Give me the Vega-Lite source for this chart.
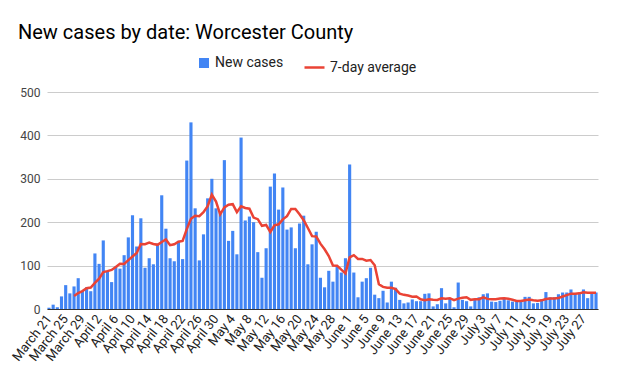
{
"$schema": "https://vega.github.io/schema/vega-lite/v6.json",
"width": 551, "height": 217,
"autosize": "none",
"padding": {"left": 47, "top": 92, "right": 20, "bottom": 73},
"background": "white",
"title": {"text": "New cases by date: Worcester County", "anchor": "start", "frame": "group", "font": "Roboto", "fontSize": 20, "fontWeight": "normal", "color": "#000000", "dx": -29, "offset": 13},
"config": {"view": {"stroke": null}, "font": "Roboto"},
"data": {"values": [
{"d":"March 21","n":3,"a":null},{"d":"March 22","n":10,"a":null},{"d":"March 23","n":4,"a":null},{"d":"March 24","n":29,"a":null},{"d":"March 25","n":55,"a":null},{"d":"March 26","n":36,"a":null},{"d":"March 27","n":52,"a":30},{"d":"March 28","n":71,"a":36.7},{"d":"March 29","n":42,"a":41.3},{"d":"March 30","n":50,"a":47.9},{"d":"March 31","n":41,"a":49.6},
{"d":"April 1","n":128,"a":60},{"d":"April 2","n":104,"a":69.7},{"d":"April 3","n":158,"a":84.9},{"d":"April 4","n":88,"a":87.3},{"d":"April 5","n":62,"a":90.1},{"d":"April 6","n":98,"a":97},{"d":"April 7","n":93,"a":104.4},{"d":"April 8","n":124,"a":103.9},{"d":"April 9","n":165,"a":112.6},{"d":"April 10","n":216,"a":120.9},{"d":"April 11","n":144,"a":128.9},{"d":"April 12","n":209,"a":149.9},{"d":"April 13","n":95,"a":149.4},{"d":"April 14","n":117,"a":152.9},{"d":"April 15","n":103,"a":149.9},{"d":"April 16","n":151,"a":147.9},{"d":"April 17","n":262,"a":154.4},{"d":"April 18","n":185,"a":160.3},{"d":"April 19","n":117,"a":147.1},{"d":"April 20","n":110,"a":149.3},{"d":"April 21","n":157,"a":155},{"d":"April 22","n":115,"a":156.7},{"d":"April 23","n":342,"a":184},{"d":"April 24","n":430,"a":208},{"d":"April 25","n":232,"a":214.7},{"d":"April 26","n":112,"a":214},{"d":"April 27","n":172,"a":222.9},{"d":"April 28","n":255,"a":236.9},{"d":"April 29","n":300,"a":263.3},{"d":"April 30","n":232,"a":247.6},
{"d":"May 1","n":224,"a":218.1},{"d":"May 2","n":343,"a":234},{"d":"May 3","n":157,"a":240.4},{"d":"May 4","n":180,"a":241.6},{"d":"May 5","n":126,"a":223.1},{"d":"May 6","n":395,"a":236.7},{"d":"May 7","n":204,"a":232.7},{"d":"May 8","n":213,"a":231.1},{"d":"May 9","n":200,"a":210.7},{"d":"May 10","n":131,"a":207},{"d":"May 11","n":72,"a":191.6},{"d":"May 12","n":140,"a":193.6},{"d":"May 13","n":282,"a":177.4},{"d":"May 14","n":312,"a":192.9},{"d":"May 15","n":229,"a":195.1},{"d":"May 16","n":280,"a":206.6},{"d":"May 17","n":183,"a":214},{"d":"May 18","n":188,"a":230.6},{"d":"May 19","n":140,"a":230.6},{"d":"May 20","n":197,"a":218.4},{"d":"May 21","n":215,"a":204.6},{"d":"May 22","n":103,"a":186.6},{"d":"May 23","n":149,"a":167.9},{"d":"May 24","n":178,"a":167.1},{"d":"May 25","n":72,"a":150.6},{"d":"May 26","n":50,"a":137.7},{"d":"May 27","n":88,"a":122.1},{"d":"May 28","n":63,"a":100.4},{"d":"May 29","n":99,"a":99.9},{"d":"May 30","n":84,"a":90.6},{"d":"May 31","n":117,"a":81.9},
{"d":"June 1","n":333,"a":119.1},{"d":"June 2","n":84,"a":124},{"d":"June 3","n":27,"a":115.3},{"d":"June 4","n":63,"a":115.3},{"d":"June 5","n":71,"a":111.3},{"d":"June 6","n":95,"a":112.9},{"d":"June 7","n":33,"a":100.9},{"d":"June 8","n":25,"a":56.9},{"d":"June 9","n":42,"a":50.9},{"d":"June 10","n":15,"a":49.1},{"d":"June 11","n":63,"a":49.1},{"d":"June 12","n":49,"a":46},{"d":"June 13","n":21,"a":35.4},{"d":"June 14","n":13,"a":32.6},{"d":"June 15","n":15,"a":31.1},{"d":"June 16","n":22,"a":28.3},{"d":"June 17","n":18,"a":28.7},{"d":"June 18","n":18,"a":22.3},{"d":"June 19","n":35,"a":20.3},{"d":"June 20","n":36,"a":22.4},{"d":"June 21","n":6,"a":21.4},{"d":"June 22","n":11,"a":20.9},{"d":"June 23","n":48,"a":24.6},{"d":"June 24","n":13,"a":23.9},{"d":"June 25","n":25,"a":24.9},{"d":"June 26","n":4,"a":20.4},{"d":"June 27","n":61,"a":24},{"d":"June 28","n":21,"a":26.1},{"d":"June 29","n":18,"a":27.1},{"d":"June 30","n":6,"a":21.1},
{"d":"July 1","n":21,"a":22.3},{"d":"July 2","n":27,"a":22.6},{"d":"July 3","n":34,"a":26.9},{"d":"July 4","n":36,"a":23.3},{"d":"July 5","n":17,"a":22.7},{"d":"July 6","n":16,"a":22.4},{"d":"July 7","n":19,"a":24.3},{"d":"July 8","n":24,"a":24.7},{"d":"July 9","n":20,"a":23.7},{"d":"July 10","n":17,"a":21.3},{"d":"July 11","n":18,"a":18.7},{"d":"July 12","n":17,"a":18.7},{"d":"July 13","n":28,"a":20.4},{"d":"July 14","n":28,"a":21.7},{"d":"July 15","n":13,"a":20.1},{"d":"July 16","n":14,"a":19.3},{"d":"July 17","n":22,"a":20},{"d":"July 18","n":39,"a":23},{"d":"July 19","n":27,"a":24.4},{"d":"July 20","n":27,"a":24.3},{"d":"July 21","n":34,"a":25.1},{"d":"July 22","n":38,"a":28.7},{"d":"July 23","n":38,"a":32.1},{"d":"July 24","n":45,"a":35.4},{"d":"July 25","n":36,"a":35},{"d":"July 26","n":35,"a":36.1},{"d":"July 27","n":45,"a":38.7},{"d":"July 28","n":25,"a":37.4},{"d":"July 29","n":39,"a":37.6},{"d":"July 30","n":38,"a":37.6}
]},
"encoding": {
  "x": {"field": "d", "type": "ordinal", "sort": null,
    "scale": {"paddingInner": 0.25, "paddingOuter": 0.1},
    "axis": {"title": null, "values": ["March 21","March 25","March 29","April 2","April 6","April 10","April 14","April 18","April 22","April 26","April 30","May 4","May 8","May 12","May 16","May 20","May 24","May 28","June 1","June 5","June 9","June 13","June 17","June 21","June 25","June 29","July 3","July 7","July 11","July 15","July 19","July 23","July 27"],
      "labelAngle": -52, "labelFontSize": 13, "labelColor": "#222222", "labelFont": "Roboto", "ticks": false, "labelPadding": 7, "domainColor": "#333333", "domainWidth": 1, "grid": false, "labelOverlap": false}
  }
},
"layer": [
  {"mark": {"type": "bar"},
   "encoding": {
     "y": {"field": "n", "type": "quantitative", "scale": {"domain": [0, 500]},
       "axis": {"title": null, "values": [0,100,200,300,400,500], "gridColor": "#cccccc", "domain": false, "ticks": false, "labelFontSize": 12, "labelColor": "#444444", "labelFont": "Roboto", "labelPadding": 7}},
     "fill": {"datum": "New cases", "type": "nominal", "scale": {"range": ["#4285f4"]},
       "legend": {"orient": "none", "legendX": 150, "legendY": -36, "title": null, "symbolType": "square", "symbolSize": 100, "labelFontSize": 14, "labelColor": "#222222", "labelFont": "Roboto", "symbolStrokeWidth": 0}}
   }},
  {"mark": {"type": "line", "strokeWidth": 2.5},
   "encoding": {
     "y": {"field": "a", "type": "quantitative"},
     "stroke": {"datum": "7-day average", "type": "nominal", "scale": {"range": ["#ea4335"]},
       "legend": {"orient": "none", "legendX": 256, "legendY": -36, "title": null, "symbolType": "stroke", "symbolSize": 400, "symbolStrokeWidth": 2.5, "labelFontSize": 14, "labelColor": "#222222", "labelFont": "Roboto"}}
   }}
]
}
